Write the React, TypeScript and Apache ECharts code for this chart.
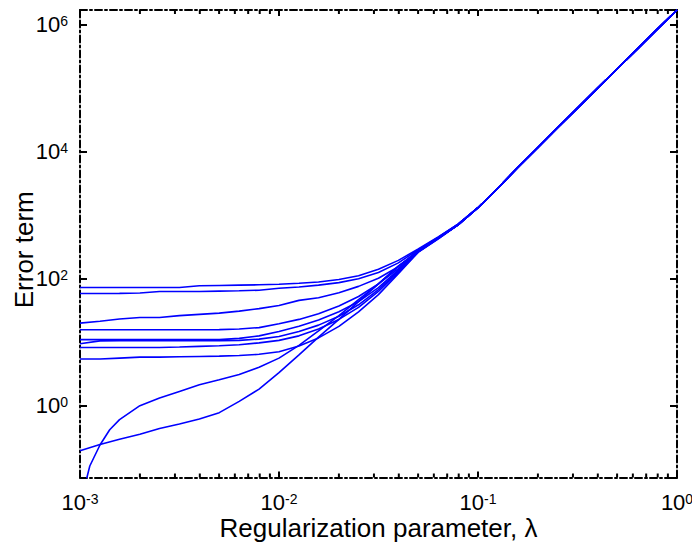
import React, { useEffect, useRef } from 'react';
import * as echarts from 'echarts';

// Regularization parameter grid (shared by the flat curves)
const LAMBDA = [0.001, 0.00126, 0.00158, 0.002, 0.00251, 0.00316, 0.00398, 0.00501, 0.00631, 0.00794, 0.01, 0.0126, 0.0158, 0.02, 0.0251, 0.0316, 0.0398, 0.0501, 0.0631, 0.0794];
// Grid for the steep curve that enters from the bottom
const LAMBDA_STEEP = [0.00107, 0.00112, 0.00126, 0.00141, 0.00158, 0.002, 0.00251, 0.00316, 0.00398, 0.00501, 0.00631, 0.00794, 0.01, 0.0126, 0.0158, 0.02, 0.0251, 0.0316, 0.0398, 0.0501, 0.0631, 0.0794];
// Common trunk after all curves merge
const LAMBDA_TRUNK = [0.1, 0.126, 0.158, 0.2, 0.251, 0.316, 0.398, 0.501, 0.631, 0.794, 1];
const TRUNK = [1318, 2692, 5623, 11750, 23990, 48980, 100000, 204200, 416900, 851100, 1720000];

const CURVE_1 = [72.9, 72.9, 72.9, 72.9, 72.9, 72.9, 77.6, 78.5, 79.4, 80.4, 82.2, 85.1, 89.1, 97.7, 112, 141, 195, 295, 457, 724];
const CURVE_2 = [58.7, 58.7, 58.9, 59.6, 63.1, 63.1, 63.1, 63.8, 64.6, 66.1, 70.8, 74.1, 79.4, 87.1, 100, 126, 178, 288, 447, 724];
const CURVE_3 = [20.0, 21.4, 23.2, 24.5, 24.5, 26.3, 27.5, 28.8, 30.9, 33.9, 38.0, 45.7, 50.1, 60.3, 75.9, 102, 155, 282, 447, 724];
const CURVE_4 = [15.7, 15.7, 15.7, 15.7, 15.7, 15.7, 15.7, 15.8, 16.2, 17.0, 19.5, 22.9, 28.2, 37.2, 52.5, 83.2, 145, 275, 437, 708];
const CURVE_5 = [11.0, 11.0, 11.0, 11.0, 11.0, 11.0, 11.0, 11.0, 11.5, 12.6, 14.8, 17.8, 22.4, 30.2, 43.7, 72.4, 138, 269, 437, 708];
const CURVE_6 = [9.46, 10.5, 10.6, 10.6, 10.6, 10.6, 10.6, 10.6, 10.7, 11.2, 12.3, 14.8, 18.6, 25.7, 38.9, 67.6, 132, 269, 437, 708];
const CURVE_7 = [8.28, 8.28, 8.28, 8.28, 8.28, 8.41, 8.61, 8.81, 9.12, 9.77, 10.7, 12.6, 16.2, 22.9, 35.5, 63.1, 126, 263, 427, 708];
const CURVE_8 = [5.43, 5.43, 5.62, 5.82, 5.82, 5.89, 5.96, 6.03, 6.17, 6.46, 7.08, 8.71, 11.7, 17.8, 30.2, 56.2, 120, 263, 427, 708];
const CURVE_9 = [0.195, 0.245, 0.295, 0.355, 0.437, 0.513, 0.617, 0.776, 1.17, 1.82, 3.31, 6.31, 12.0, 22.9, 43.7, 83.2, 158, 269, 437, 708];
const CURVE_STEEP = [0.0631, 0.112, 0.240, 0.417, 0.603, 1.0, 1.32, 1.68, 2.14, 2.57, 3.09, 4.03, 5.62, 8.91, 15.1, 26.3, 46.8, 83.2, 158, 269, 437, 708];

const X_TICKS = [0.001, 0.01, 0.1, 1];
const X_TICK_EXP = ['-3', '-2', '-1', '0'];
const X_MINOR_TICKS = [0.002, 0.003, 0.004, 0.005, 0.006, 0.007, 0.008, 0.009, 0.02, 0.03, 0.04, 0.05, 0.06, 0.07, 0.08, 0.09, 0.2, 0.3, 0.4, 0.5, 0.6, 0.7, 0.8, 0.9];
const Y_TICKS = [1, 100, 10000, 1000000];
const Y_TICK_EXP = ['0', '2', '4', '6'];

const X_MIN = 0.001;
const X_MAX = 1;
const Y_MIN = 0.0738;
const Y_MAX = 1.723e6;

const FONT = 'Liberation Sans, Arial, Helvetica, sans-serif';

const expFormatter = (ticks: number[], exps: string[]) => (v: number) => {
  for (let i = 0; i < ticks.length; i++) {
    if (Math.abs(v / ticks[i] - 1) < 1e-6) return `{b|10}{s|${exps[i]}}`;
  }
  return '';
};

const rich = {
  b: { fontSize: 22, lineHeight: 22, fontFamily: FONT, color: '#000', verticalAlign: 'bottom' },
  s: { fontSize: 14, lineHeight: 14, fontFamily: FONT, color: '#000', verticalAlign: 'top' },
};

const frameLine = { show: true, onZero: false, lineStyle: { color: '#000', width: 2, type: [7, 3, 2, 3] } };

const buildSeries = () => {
  const flat = [CURVE_1, CURVE_2, CURVE_3, CURVE_4, CURVE_5, CURVE_6, CURVE_7, CURVE_8, CURVE_9];
  const zip = (xs: number[], ys: number[]) => xs.map((x, i) => [x, ys[i]]);
  const trunk = zip(LAMBDA_TRUNK, TRUNK);
  const all = flat.map((c) => zip(LAMBDA, c).concat(trunk));
  all.push(zip(LAMBDA_STEEP, CURVE_STEEP).concat(trunk));
  const series: any[] = all.map((data) => ({
    type: 'line',
    data,
    showSymbol: false,
    symbol: 'none',
    clip: true,
    lineStyle: { color: '#0000ff', width: 1.6 },
    itemStyle: { color: '#0000ff' },
    silent: true,
  }));
  // minor ticks of the logarithmic x axis on the bottom and top frame edges
  series.push({
    type: 'custom',
    coordinateSystem: 'cartesian2d',
    data: X_MINOR_TICKS.map((x) => [x]),
    encode: { x: 0 },
    silent: true,
    clip: false,
    z: 5,
    renderItem: (_params: any, api: any) => {
      const x = api.value(0);
      const bottom = api.coord([x, Y_MIN]);
      const top = api.coord([x, Y_MAX]);
      const style = { stroke: '#000', lineWidth: 2 };
      return {
        type: 'group',
        children: [
          { type: 'line', shape: { x1: bottom[0], y1: bottom[1], x2: bottom[0], y2: bottom[1] - 4 }, style },
          { type: 'line', shape: { x1: top[0], y1: top[1], x2: top[0], y2: top[1] + 4 }, style },
        ],
      };
    },
  });
  return series;
};

export default function App() {
  const ref = useRef<HTMLDivElement>(null);
  useEffect(() => {
    document.body.style.margin = '0';
    const chart = echarts.init(ref.current!, null, { renderer: 'svg' });
    const xCommon = {
      type: 'log',
      logBase: 10,
      min: X_MIN,
      max: X_MAX,
      axisLine: frameLine,
      splitLine: { show: false },
      axisTick: { show: true, inside: true, length: 6, lineStyle: { color: '#000', width: 2 } },
    };
    const yCommon = {
      type: 'log',
      logBase: 100,
      min: Y_MIN,
      max: Y_MAX,
      axisLine: frameLine,
      splitLine: { show: false },
      axisTick: { show: true, inside: true, length: 7, lineStyle: { color: '#000', width: 2 } },
    };
    chart.setOption({
      animation: false,
      backgroundColor: '#fff',
      grid: { left: 80, right: 15, top: 10, bottom: 68.5, containLabel: false, outerBoundsMode: 'none' },
      xAxis: [
        {
          ...xCommon,
          position: 'bottom',
          name: 'Regularization parameter, λ',
          nameLocation: 'middle',
          nameGap: 40,
          nameMoveOverlap: false,
          nameTextStyle: { fontSize: 26, lineHeight: 20, fontFamily: FONT, color: '#000' },
          axisLabel: {
            show: true,
            margin: 14,
            showMinLabel: true,
            showMaxLabel: true,
            hideOverlap: false,
            formatter: expFormatter(X_TICKS, X_TICK_EXP),
            rich,
          },
        },
        { ...xCommon, position: 'top', axisLabel: { show: false } },
      ],
      yAxis: [
        {
          ...yCommon,
          position: 'left',
          name: 'Error term',
          nameLocation: 'middle',
          nameRotate: 90,
          nameGap: 43,
          nameMoveOverlap: false,
          nameTextStyle: { fontSize: 26, fontFamily: FONT, color: '#000', padding: [0, 12, 0, 0] },
          axisLabel: {
            show: true,
            margin: 12,
            formatter: expFormatter(Y_TICKS, Y_TICK_EXP),
            rich,
          },
        },
        { ...yCommon, position: 'right', axisLabel: { show: false } },
      ],
      series: buildSeries(),
    });
    return () => chart.dispose();
  }, []);
  return <div ref={ref} style={{ width: 692, height: 546 }} />;
}
